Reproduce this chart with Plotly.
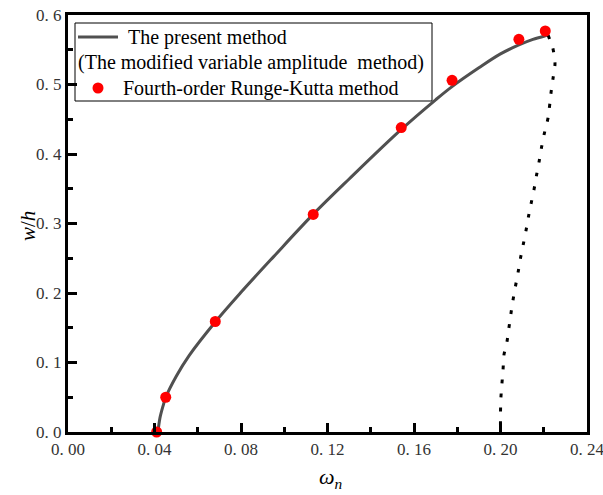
import plotly.graph_objects as go

# Present method (solid branch)
curve_x = [0.0416, 0.0425, 0.0440, 0.0452, 0.0500, 0.0560, 0.0680, 0.0800, 0.0950,
           0.1130, 0.1300, 0.1540, 0.1700, 0.1776, 0.1900, 0.2000, 0.2085, 0.2150,
           0.2207, 0.2220]
curve_y = [0.000, 0.020, 0.038, 0.050, 0.080, 0.110, 0.158, 0.201, 0.252,
           0.312, 0.364, 0.435, 0.478, 0.497, 0.524, 0.544, 0.557, 0.565,
           0.570, 0.571]

# Present method (unstable, dotted branch)
dot_x = [0.2220, 0.2243, 0.2252, 0.2243, 0.2234, 0.2220, 0.2203, 0.2190, 0.2179,
         0.2167, 0.2155, 0.2143, 0.2130, 0.2118, 0.2106, 0.2093, 0.2082, 0.2070,
         0.2059, 0.2049, 0.2039, 0.2030, 0.2016, 0.2012, 0.2007, 0.2002, 0.2000,
         0.2000]
dot_y = [0.571, 0.551, 0.530, 0.509, 0.489, 0.452, 0.430, 0.410, 0.390,
         0.370, 0.349, 0.331, 0.311, 0.290, 0.271, 0.251, 0.231, 0.211,
         0.192, 0.172, 0.150, 0.130, 0.111, 0.091, 0.071, 0.050, 0.029,
         0.000]

# Fourth-order Runge-Kutta points
rk_x = [0.0410, 0.0452, 0.0681, 0.1134, 0.1541, 0.1776, 0.2085, 0.2207]
rk_y = [0.000, 0.050, 0.159, 0.313, 0.438, 0.506, 0.565, 0.577]

x_tickvals = [0.00, 0.04, 0.08, 0.12, 0.16, 0.20, 0.24]
x_ticktext = ["0. 00", "0. 04", "0. 08", "0. 12", "0. 16", "0. 20", "0. 24"]
y_tickvals = [0.0, 0.1, 0.2, 0.3, 0.4, 0.5, 0.6]
y_ticktext = ["0. 0", "0. 1", "0. 2", "0. 3", "0. 4", "0. 5", "0. 6"]

leg_line1 = "The present method"
leg_line2 = "(The modified variable amplitude  method)"
leg_line3 = "Fourth-order Runge-Kutta method"

W, H = 603, 495
L, R, T, B = 68, 16, 15, 63
pw, ph = W - L - R, H - T - B


def px(x):
    return (x - L) / pw


def py(y):
    return (H - B - y) / ph


GRAY = "#505050"
FONT = "Liberation Serif"

fig = go.Figure()
fig.add_trace(go.Scatter(x=curve_x, y=curve_y, mode="lines",
                         line=dict(color=GRAY, width=3, shape="spline", smoothing=1.0),
                         showlegend=False))
fig.add_trace(go.Scatter(x=dot_x, y=dot_y, mode="lines",
                         line=dict(color="black", width=3, dash="4px,10px",
                                   shape="spline", smoothing=0.6),
                         showlegend=False))
fig.add_trace(go.Scatter(x=rk_x, y=rk_y, mode="markers",
                         marker=dict(color="red", size=11), showlegend=False,
                         cliponaxis=False))

axis_common = dict(showline=True, linecolor="black", linewidth=3, mirror=True,
                   ticks="inside", ticklen=9, tickwidth=2.5, tickcolor="black",
                   showgrid=False, zeroline=False, automargin=False,
                   ticklabeloverflow="allow",
                   tickfont=dict(family=FONT, size=17, color="#333"))

fig.update_xaxes(range=[0, 0.24], tickvals=x_tickvals, ticktext=x_ticktext,
                 minor=dict(ticks="inside", ticklen=5, tickwidth=2.5, dtick=0.02,
                            tick0=0, tickcolor="black"),
                 **axis_common)
fig.update_yaxes(range=[0, 0.6], tickvals=y_tickvals, ticktext=y_ticktext,
                 minor=dict(ticks="inside", ticklen=5, tickwidth=2.5, dtick=0.05,
                            tick0=0, tickcolor="black"),
                 **axis_common)

shapes = [
    dict(type="rect", xref="paper", yref="paper", x0=px(75), x1=px(432),
         y0=py(101), y1=py(23), line=dict(color="black", width=1),
         fillcolor="white", layer="below"),
    dict(type="line", xref="paper", yref="paper", x0=px(78), x1=px(118),
         y0=py(37), y1=py(37), line=dict(color=GRAY, width=3)),
    dict(type="circle", xref="paper", yref="paper", xsizemode="pixel",
         ysizemode="pixel", xanchor=px(98), yanchor=py(88), x0=-5.5, x1=5.5,
         y0=-5.5, y1=5.5, fillcolor="red", line=dict(width=0)),
]

ann_font = dict(family=FONT, size=20, color="black")
annotations = [
    dict(text=leg_line1, xref="paper", yref="paper", x=px(126), y=py(37),
         xanchor="left", yanchor="middle", showarrow=False, font=ann_font),
    dict(text=leg_line2, xref="paper", yref="paper", x=px(76), y=py(63),
         xanchor="left", yanchor="middle", showarrow=False, font=ann_font),
    dict(text=leg_line3, xref="paper", yref="paper", x=px(121), y=py(88),
         xanchor="left", yanchor="middle", showarrow=False, font=ann_font),
    dict(text="<i>w</i>/<i>h</i>", xref="paper", yref="paper", x=px(28), y=py(226),
         xanchor="center", yanchor="middle", textangle=-90, showarrow=False,
         font=dict(family=FONT, size=21, color="black")),
    dict(text="<i>ω<sub>n</sub></i>", xref="paper", yref="paper", x=px(331), y=py(478),
         xanchor="center", yanchor="middle", showarrow=False,
         font=dict(family=FONT, size=22, color="black")),
]

fig.update_layout(width=W, height=H, margin=dict(l=L, r=R, t=T, b=B),
                  plot_bgcolor="white", paper_bgcolor="white",
                  shapes=shapes, annotations=annotations, showlegend=False)

fig.write_html("out.html")
